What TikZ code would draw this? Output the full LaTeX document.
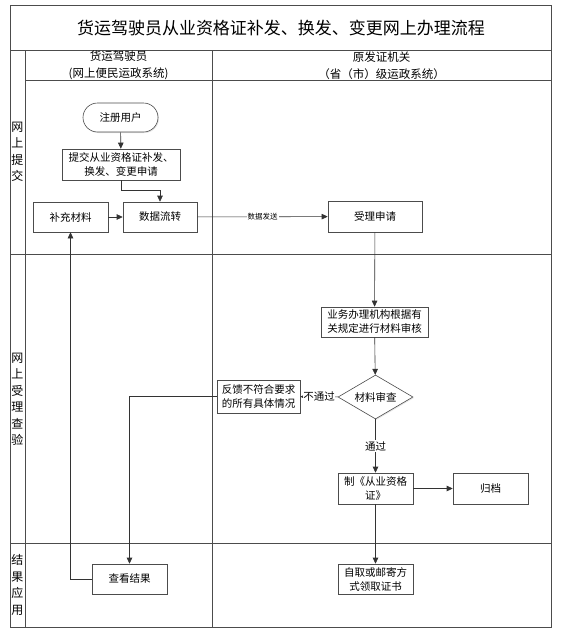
\documentclass[tikz,border=0pt]{standalone}
\usepackage{fontspec}
\setmainfont{Noto Sans CJK SC}
\usetikzlibrary{arrows.meta,shapes.geometric,shadows}

\begin{document}
\begin{tikzpicture}[x=1pt,y=-1pt,
    frame/.style={draw=black!70,line width=0.8pt},
    box/.style={draw=black!70,line width=0.6pt,fill=white,minimum height=30pt,inner sep=2pt,align=center,
      font=\fontsize{10.5}{14}\selectfont,drop shadow={shadow xshift=1pt,shadow yshift=-1pt,fill=black!20}},
    arr/.style={draw=black!80,line width=0.6pt,-{Triangle[length=6pt,width=5.5pt]}},
    lane/.style={align=center,font=\fontsize{12}{16.5}\selectfont},
    head/.style={align=center,font=\fontsize{11.5}{17}\selectfont}]
  \useasboundingbox (0,0) rectangle (561,635);

  % swimlane frame
  \draw[frame] (10,5) rectangle (551,627);
  \draw[frame] (10,50) -- (551,50) (25,80) -- (551,80)
    (10,254) -- (551,254) (10,543) -- (551,543)
    (25,50) -- (25,627) (212,50) -- (212,627);

  \node (title) at (281,27.5) {\fontsize{17}{19}\selectfont 货运驾驶员从业资格证补发、换发、变更网上办理流程};
  \node[head] (hdriver) at (118.5,65.5) {货运驾驶员\\(网上便民运政系统)};
  \node[head] (hoffice) at (381.5,65.5) {原发证机关\\（省（市）级运政系统）};
  \node[lane] (lsubmit) at (17.5,152) {网\\上\\提\\交};
  \node[lane] (lcheck) at (17.5,399) {网\\上\\受\\理\\查\\验};
  \node[lane] (luse) at (17.5,585) {结\\果\\应\\用};

  % nodes
  \node[box,rounded corners=14.5pt,minimum width=75pt,minimum height=29pt] (reg) at (120.5,117.5) {注册用户};
  \node[box,minimum width=118pt,minimum height=31pt] (submit) at (121,164.5) {提交从业资格证补发、\\换发、变更申请};
  \node[box,minimum width=75pt] (supp) at (70.5,217) {补充材料};
  \node[box,minimum width=74pt] (flow) at (160,217) {数据流转};
  \node[box,minimum width=94pt,minimum height=31pt] (accept) at (375,216.5) {受理申请};
  \node[box,minimum width=107pt] (review) at (374.5,322) {业务办理机构根据有\\关规定进行材料审核};
  \node[box,diamond,aspect=1.7,inner sep=1pt,minimum width=75pt,minimum height=44pt] (check) at (375.5,397) {材料审查};
  \node[box,minimum width=83pt,minimum height=33pt] (feedback) at (258.5,396.5) {反馈不符合要求\\的所有具体情况};
  \node[box,minimum width=75pt,minimum height=31pt] (make) at (375.5,488.5) {制《从业资格\\证》};
  \node[box,minimum width=75pt,minimum height=31pt] (archive) at (490.5,488.5) {归档};
  \node[box,minimum width=75pt] (result) at (129.5,579) {查看结果};
  \node[box,minimum width=75pt] (collect) at (375.5,579) {自取或邮寄方\\式领取证书};

  % connectors
  \draw[arr] (reg) -- (submit);
  \draw[arr] (submit.south) -- ++(0,10) -| (flow.north);
  \draw[arr] (supp) -- (flow);
  \draw[arr] (flow) -- node[fill=white,inner sep=1pt,font=\fontsize{7.5}{9}\selectfont] {数据发送} (accept);
  \draw[arr] (accept) -- (review);
  \draw[arr] (review) -- (check);
  \draw[arr] (check) -- node[fill=white,inner sep=0.5pt,font=\fontsize{10.5}{12}\selectfont] {不通过} (feedback);
  \draw[arr] (check) -- node[fill=white,inner sep=1pt,font=\fontsize{10.5}{12}\selectfont] {通过} (make);
  \draw[arr] (make) -- (archive);
  \draw[arr] (make) -- (collect);
  \draw[arr] (feedback.west) -| (result.north);
  \draw[arr] (result.west) -| (supp.south);
\end{tikzpicture}
\end{document}
